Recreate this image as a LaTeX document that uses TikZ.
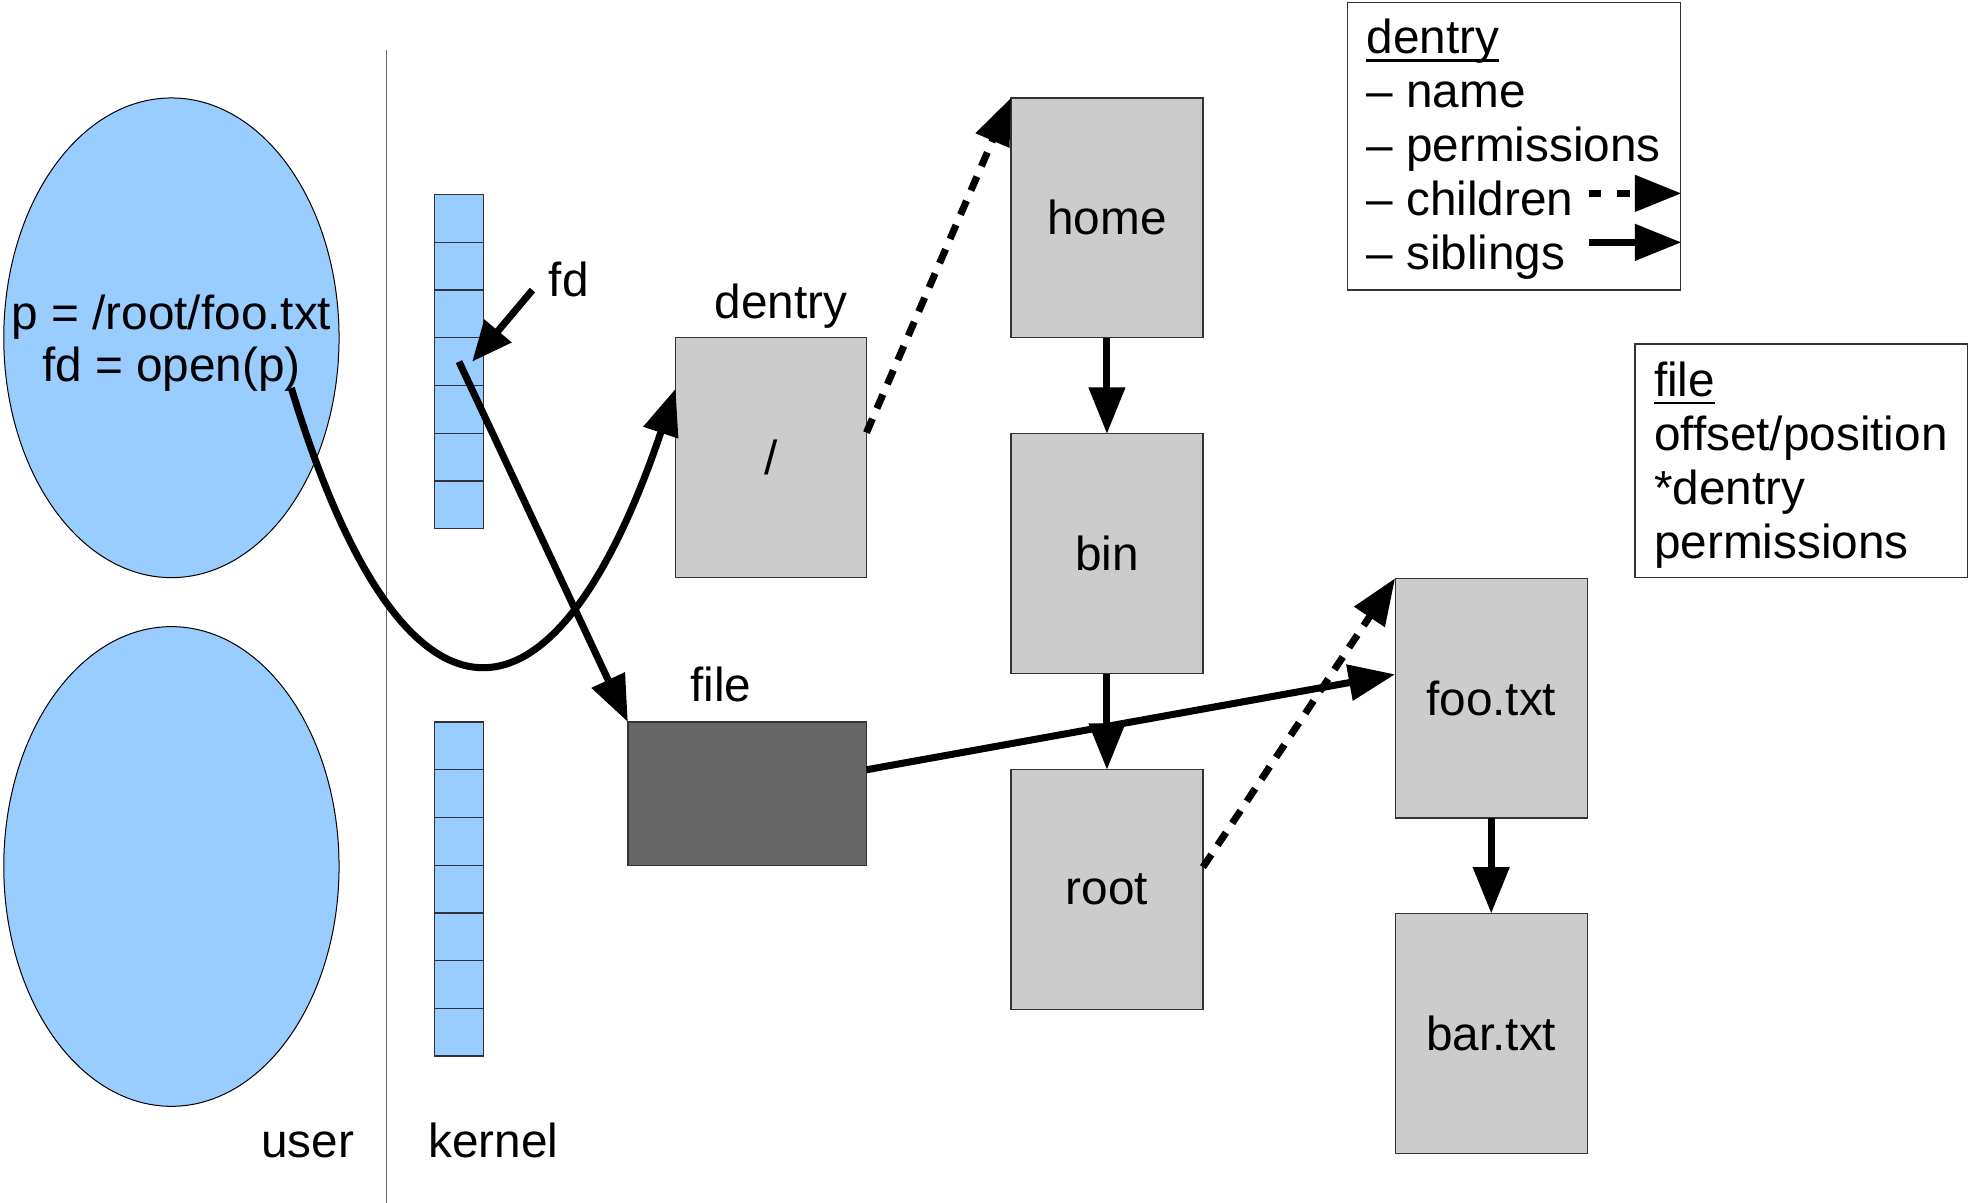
\documentclass[tikz,border=0pt]{standalone}
\usepackage{fontspec}
\setmainfont{Liberation Sans}
\usetikzlibrary{arrows.meta,shapes.geometric,calc}

\definecolor{userblue}{HTML}{99CCFF}
\definecolor{boxgray}{HTML}{CCCCCC}
\definecolor{filegray}{HTML}{666666}
\definecolor{edgegray}{HTML}{333333}

\begin{document}
\begin{tikzpicture}[x=1pt,y=-1pt,
  font=\fontsize{38}{43}\selectfont,
  bubble/.style={ellipse, draw=black, line width=0.8pt, fill=userblue,
    minimum width=267pt, minimum height=382pt, inner sep=0pt, outer sep=0pt},
  cell/.style={draw=edgegray, line width=1pt, fill=userblue,
    minimum width=39pt, minimum height=38pt, inner sep=0pt, outer sep=0pt},
  dbox/.style={draw=edgegray, line width=1pt, fill=boxgray,
    minimum width=153pt, minimum height=191pt, inner sep=0pt, outer sep=0pt},
  keybox/.style={draw=edgegray, line width=1pt, fill=white, anchor=north west,
    inner sep=0pt, outer sep=0pt},
  lbl/.style={anchor=base, inner sep=0pt},
  keytext/.style={anchor=base west, inner sep=0pt},
  arr/.style={line width=5.6pt, -{Triangle[length=37pt,width=28pt]}},
  dotarr/.style={arr, dash pattern=on 12pt off 9pt},
  divider/.style={draw=black!60, line width=1pt}]

% page extent
\useasboundingbox (0,0) rectangle (1568,958);

% user space processes
\node[bubble] (proc1) at (136.5,269) {};
\node[bubble] (proc2) at (136.5,690) {};
\node[lbl] (codeA) at (136.5,262) {p = /root/foo.txt};
\node[lbl] (codeB) at (136.5,304) {fd = open(p)};
\coordinate (call) at (232,309);

% user / kernel boundary
\coordinate (divtop) at (308,40);
\coordinate (divbot) at (308,958);
\draw[divider] (divtop) -- (divbot);
\node[lbl] (userlbl) at (245,922) {user};
\node[lbl] (kernlbl) at (393,922) {kernel};

% file descriptor tables
\foreach \i in {1,...,7} {
  \node[cell] (fdA\i) at (365.5,{136+38*\i}) {};
  \node[cell] (fdB\i) at (365.5,{556+38*\i}) {};
}
\node[lbl] (fdlbl) at (453,236) {fd};
\coordinate (fdtail) at (424,231);

% dentry and file objects
\node[dbox, minimum width=152pt] (slash) at (614,364.5) {/};
\node[lbl] (dentrylbl) at (622,254) {dentry};
\node[dbox, fill=filegray, minimum width=190pt, minimum height=114pt] (file) at (595,632) {};
\node[lbl] (filelbl) at (574,559) {file};

\node[dbox] (home) at (881.5,173.5) {home};
\node[dbox] (bin)  at (881.5,441) {bin};
\node[dbox] (root) at (881.5,708.5) {root};
\node[dbox] (foo)  at (1187.5,556) {foo.txt};
\node[dbox] (bar)  at (1187.5,823) {bar.txt};

% siblings
\draw[arr] (home) -- (bin);
\draw[arr] (bin) -- (root);
\draw[arr] (foo) -- (bar);

% children
\draw[dotarr] ([yshift=20pt]slash.east) -- (home.north west);
\draw[dotarr] ([yshift=18pt]root.east) -- (foo.north west);

% open() path
\draw[arr] (call) .. controls (320,600) and (440,600) .. ([yshift=55pt]slash.west);
\draw[arr, -{Triangle[length=32pt,width=27pt]}] (fdtail) -- ([xshift=-9pt]fdA4.east);
\draw[arr] (fdA4.center) -- (file.north west);
\draw[arr] ([yshift=19pt]file.east) -- ([yshift=19pt]foo.west);

% key: dentry
\node[keybox, minimum width=265pt, minimum height=229pt] (keyD) at (1073,2) {};
\node[keytext] (kd0) at (1088,43) {dentry};
\draw[line width=2pt] ([yshift=-5pt]kd0.base west) -- ([yshift=-5pt]kd0.base east);
\node[keytext] (kd1) at (1088,86) {– name};
\node[keytext] (kd2) at (1088,129) {– permissions};
\node[keytext] (kd3) at (1088,172) {– children};
\node[keytext] (kd4) at (1088,215) {– siblings};
\coordinate (kcA) at (1265,154);
\coordinate (kcB) at (1339,154);
\coordinate (ksA) at (1265,193);
\coordinate (ksB) at (1339,193);
\draw[dotarr, dash pattern=on 10pt off 13pt] (kcA) -- (kcB);
\draw[arr] (ksA) -- (ksB);

% key: file
\node[keybox, minimum width=265pt, minimum height=186pt] (keyF) at (1302,274) {};
\node[keytext] (kf0) at (1317,316) {file};
\draw[line width=2pt] ([yshift=-5pt]kf0.base west) -- ([yshift=-5pt]kf0.base east);
\node[keytext] (kf1) at (1317,359) {offset/position};
\node[keytext] (kf2) at (1317,402) {*dentry};
\node[keytext] (kf3) at (1317,445) {permissions};

\end{tikzpicture}
\end{document}
